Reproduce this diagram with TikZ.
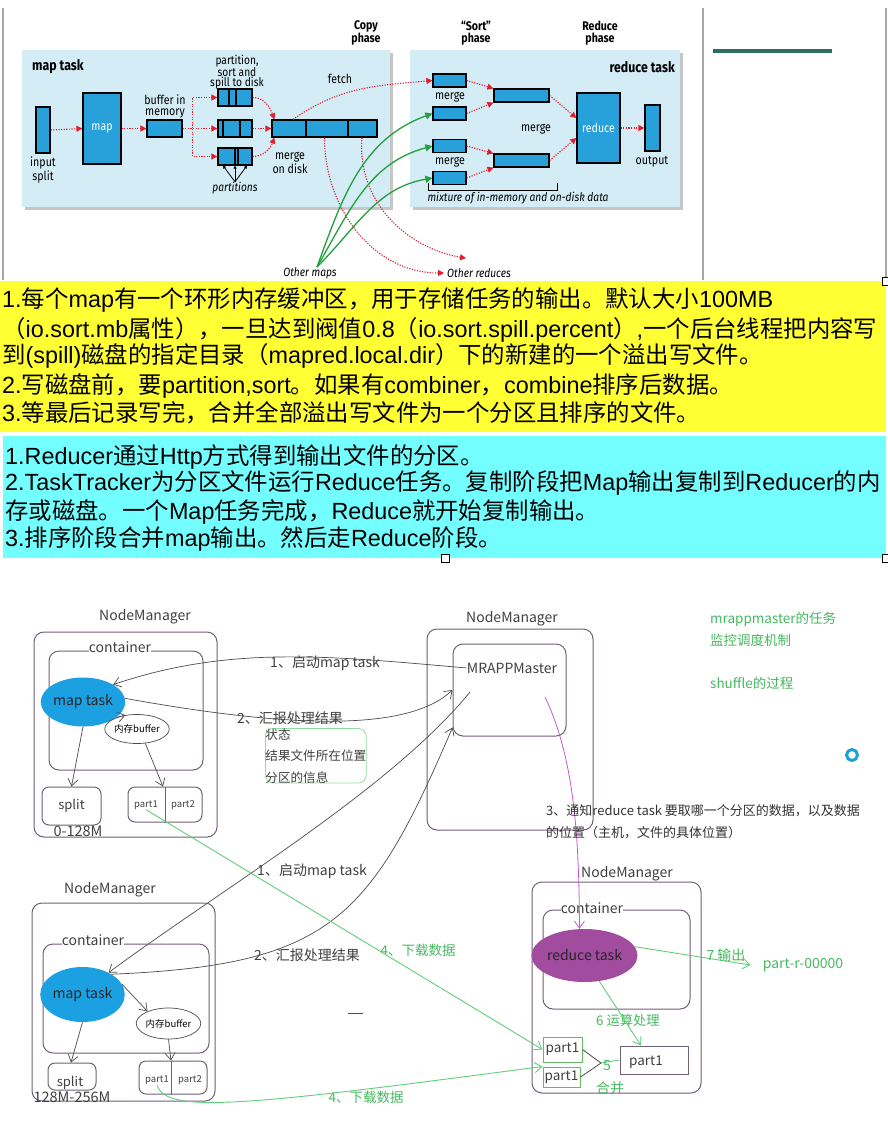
\documentclass[tikz,border=0pt]{standalone}
\usepackage{fontspec}
\setmainfont{Liberation Sans}
\newfontfamily\cjk{Noto Sans CJK SC}
\newfontfamily\cond[FakeStretch=0.85]{Fira Sans}
\usetikzlibrary{arrows.meta,shapes.geometric}
\definecolor{panel}{RGB}{212,236,246}
\definecolor{hblue}{RGB}{40,160,218}
\definecolor{hred}{RGB}{226,30,45}
\definecolor{hgreen}{RGB}{34,160,60}
\definecolor{yel}{RGB}{255,255,51}
\definecolor{cya}{RGB}{115,255,255}
\definecolor{barteal}{RGB}{45,110,98}
\definecolor{nmline}{RGB}{115,95,120}
\definecolor{lgreen}{RGB}{100,205,120}
\definecolor{tgreen}{RGB}{70,185,95}
\definecolor{taskblue}{RGB}{27,160,226}
\definecolor{taskpurple}{RGB}{162,76,160}
\definecolor{notepink}{RGB}{200,90,205}

\begin{document}
\begin{tikzpicture}[x=1pt, y=-1pt,
  blk/.style={draw=black, line width=1.2pt, fill=hblue, inner sep=0pt},
  tlab/.style={font=\cond\fontsize{12.5}{11}\selectfont, align=center, inner sep=0pt},
  ttitle/.style={tlab, font=\cond\bfseries\fontsize{12.5}{12.5}\selectfont},
  tital/.style={tlab, font=\cond\itshape\fontsize{12}{11}\selectfont},
  rdarr/.style={draw=hred, line width=1.1pt, dash pattern=on 1.2pt off 1.4pt, -{Triangle[length=6pt,width=6pt]}},
  grarr/.style={draw=hgreen, line width=1.3pt, -{Triangle[length=7pt,width=7pt]}},
  ytext/.style={anchor=west, inner sep=0pt, font=\fontsize{23.4}{24}\selectfont},
  nmbox/.style={draw=nmline, line width=1pt, rounded corners=10pt, inner sep=0pt},
  btxt/.style={font=\cjk\fontsize{14}{16}\selectfont, inner sep=0pt, text=black!75},
  gtxt/.style={btxt, text=tgreen},
  conn/.style={draw=black!70, line width=0.7pt, -{Straight Barb[length=7pt,width=10pt]}},
  gconn/.style={draw=lgreen, line width=0.9pt, -{Straight Barb[length=7pt,width=10pt]}}]
  \useasboundingbox[fill=white] (0,0) rectangle (888,1124);

  % screenshot frame
  \draw[gray!70, line width=1.5pt] (3,8) -- (3,280);
  \draw[gray!70, line width=1.5pt] (703,8) -- (703,280);
  \draw[gray!70, line width=1.5pt] (886,8) -- (886,280);
  \draw[barteal, line width=3.5pt] (713,51) -- (832,51);

  % the two task panels
  \fill[gray!45] (25,53) rectangle (393,210);
  \fill[panel] (22,50) rectangle (390,207);
  \fill[gray!45] (413,53) rectangle (683,210);
  \fill[panel] (410,50) rectangle (680,207);
  \node[ttitle] (copyph) at (366,33) {Copy\\phase};
  \node[ttitle] (sortph) at (476,33) {“Sort”\\phase};
  \node[ttitle] (redph) at (600,33) {Reduce\\phase};
  \node[ttitle, anchor=west, font=\cond\bfseries\fontsize{14.5}{14}\selectfont] (maptitle) at (32,67) {map task};
  \node[ttitle, anchor=east, font=\cond\bfseries\fontsize{14.5}{14}\selectfont] (redtitle) at (675,67) {reduce task};

  % map side
  \node[blk, minimum width=14, minimum height=46] (insplit) at (43,130) {};
  \node[tlab] (insplitlbl) at (43,170) {input\\split};
  \node[blk, minimum width=38, minimum height=71, text=white, font=\cond\fontsize{12.5}{11}\selectfont] (mapblk) at (102,128.5) {map};
  \node[blk, minimum width=35, minimum height=17] (buf) at (164.5,128.5) {};
  \node[tlab] (buflbl) at (165,106) {buffer in\\memory};
  \node[blk, minimum width=34, minimum height=17] (spillA) at (235,97.5) {};
  \node[blk, minimum width=34, minimum height=17] (spillB) at (235,128.5) {};
  \node[blk, minimum width=34, minimum height=17] (spillC) at (235,156.5) {};
  \node[tlab, font=\cond\fontsize{12}{10}\selectfont] (spilllbl) at (237,72) {partition,\\sort and\\spill to disk};
  \node[blk, minimum width=105, minimum height=17] (mrgdisk) at (324.5,128.5) {};
  \node[tlab] (mrgdisklbl) at (290,163) {merge\\on disk};
  \node[tlab] (fetchlbl) at (340,79) {fetch};
  \node[tital] (partslbl) at (235,188) {partitions};
  \foreach \n/\a/\b in {spillA/-6/1, spillB/-12/5, spillC/0/3, mrgdisk/-18.5/23.5}
    \draw[line width=1.2pt] ([xshift=\a]\n.north) -- ([xshift=\a]\n.south)
      ([xshift=\b]\n.north) -- ([xshift=\b]\n.south);
  \foreach \s in {-12,0,12}
    \draw[line width=0.8pt, -{Triangle[length=3pt,width=3pt]}] (partslbl.north) -- ([xshift=\s]spillC.south);

  \draw[rdarr] (insplit.east) -- (mapblk.west);
  \draw[rdarr] (mapblk.east) -- (buf.west);
  \draw[rdarr] (buf.east) -- ++(10,0) |- (spillA.west);
  \draw[rdarr] (buf.east) -- (spillB.west);
  \draw[rdarr] (buf.east) -- ++(10,0) |- (spillC.west);
  \draw[rdarr] (spillA.east) to[out=0,in=110] ([xshift=3]mrgdisk.north west);
  \draw[rdarr] (spillB.east) -- (mrgdisk.west);
  \draw[rdarr] (spillC.east) to[out=0,in=-110] ([xshift=3]mrgdisk.south west);

  % reduce side
  \node[blk, minimum width=33, minimum height=13] (mA) at (449.5,80.5) {};
  \node[blk, minimum width=33, minimum height=13] (mB) at (449.5,113.5) {};
  \node[blk, minimum width=33, minimum height=13] (mC) at (449.5,146) {};
  \node[blk, minimum width=33, minimum height=13] (mD) at (449.5,178) {};
  \node[tlab] (mlblA) at (450,97) {merge};
  \node[tlab] (mlblB) at (450,162) {merge};
  \node[blk, minimum width=55, minimum height=13] (mrgA) at (521.5,95.5) {};
  \node[blk, minimum width=55, minimum height=13] (mrgB) at (521.5,160.5) {};
  \node[tlab] (mlblC) at (536,129) {merge};
  \node[blk, minimum width=43, minimum height=70, text=white, font=\cond\fontsize{12.5}{11}\selectfont] (redblk) at (598.5,128) {reduce};
  \node[blk, minimum width=15, minimum height=46] (outblk) at (652.5,128) {};
  \node[tlab] (outlbl) at (652,162) {output};
  \draw[line width=0.8pt] (428,183) -- (428,190) -- (557,190) -- (557,183);
  \node[tital] (mixlbl) at (518,198) {mixture of in-memory and on-disk data};

  \draw[rdarr] (mA.east) -- (mrgA.north west);
  \draw[rdarr] (mB.east) -- (mrgA.south west);
  \draw[rdarr] (mC.east) -- (mrgB.north west);
  \draw[rdarr] (mD.east) -- (mrgB.south west);
  \draw[rdarr] (mrgA.east) -- ([yshift=10]redblk.west);
  \draw[rdarr] (mrgB.east) -- ([yshift=-10]redblk.west);
  \draw[rdarr] (redblk.east) -- (outblk.west);

  % between the tasks
  \node[tital] (othmap) at (310,273) {Other maps};
  \node[tital, anchor=west] (othred) at (447,273) {Other reduces};
  \draw[rdarr] ([xshift=-31.5]mrgdisk.north) to[out=35,in=185] (mA.west);
  \draw[rdarr] (mrgdisk.south) to[out=-90,in=180] ([xshift=-3]othred.west);
  \draw[rdarr] ([xshift=37.5]mrgdisk.south) to[out=-95,in=170] ([xshift=19,yshift=10]othred.north west);
  \draw[grarr] ([xshift=7]othmap.north) to[out=70,in=200] (mB.west);
  \draw[grarr] ([xshift=7]othmap.north) to[out=60,in=195] (mC.west);
  \draw[grarr] ([xshift=7]othmap.north) to[out=45,in=190] (mD.west);

  % notes on the map side
  \fill[yel] (0,281) rectangle (886,432);
  \node[ytext] (y1) at (2,300) {1.{\cjk 每个}map{\cjk 有一个环形内存缓冲区，用于存储任务的输出。默认大小}100MB};
  \node[ytext] (y2) at (2,330) {{\cjk （}io.sort.mb{\cjk 属性），一旦达到阀值}0.8{\cjk （}io.sort.spill.percent{\cjk ）},{\cjk 一个后台线程把内容写}};
  \node[ytext] (y3) at (2,356) {{\cjk 到}(spill){\cjk 磁盘的指定目录（}mapred.local.dir{\cjk ）下的新建的一个溢出写文件。}};
  \node[ytext] (y4) at (2,386) {2.{\cjk 写磁盘前，要}partition,sort{\cjk 。如果有}combiner{\cjk ，}combine{\cjk 排序后数据。}};
  \node[ytext] (y5) at (2,413) {3.{\cjk 等最后记录写完，合并全部溢出写文件为一个分区且排序的文件。}};

  % notes on the reduce side
  \fill[cya] (3,436) rectangle (886,558);
  \node[ytext] (c1) at (5,457) {1.Reducer{\cjk 通过}Http{\cjk 方式得到输出文件的分区。}};
  \node[ytext] (c2) at (5,483) {2.TaskTracker{\cjk 为分区文件运行}Reduce{\cjk 任务。复制阶段把}Map{\cjk 输出复制到}Reducer{\cjk 的内}};
  \node[ytext] (c3) at (5,512) {{\cjk 存或磁盘。一个}Map{\cjk 任务完成，}Reduce{\cjk 就开始复制输出。}};
  \node[ytext] (c4) at (5,539) {3.{\cjk 排序阶段合并}map{\cjk 输出。然后走}Reduce{\cjk 阶段。}};
  \foreach \hx/\hy in {886/281, 445/558, 886/558}
    \draw[fill=white, line width=0.8pt] (\hx-4,\hy-4) rectangle (\hx+4,\hy+4);

  % first map NodeManager
  \node[btxt] (nm1lbl) at (145,617) {NodeManager};
  \node[nmbox, minimum width=183, minimum height=205] (nm1) at (125.5,734.5) {};
  \node[nmbox, minimum width=154, minimum height=119] (ct1) at (126,710.5) {};
  \node[btxt, fill=white, inner ysep=1pt] (ct1lbl) at (120,647) {container};
  \node[ellipse, fill=taskblue, minimum width=57, minimum height=49, btxt, text=black!85] (m1task) at (83,702) {map task};
  \node[ellipse, draw=black!70, line width=0.7pt, minimum width=46, minimum height=29, inner sep=0pt, font=\cjk\fontsize{9.5}{10}\selectfont] (buf1) at (137,729) {内存buffer};
  \node[nmbox, rounded corners=7pt, minimum width=59, minimum height=38, btxt, font=\cjk\fontsize{13}{14}\selectfont] (split1) at (71.5,806) {split};
  \node[nmbox, rounded corners=7pt, minimum width=74, minimum height=35] (parts1) at (165,804.5) {};
  \draw[nmline, line width=1pt] (parts1.north) -- (parts1.south);
  \node[btxt, font=\cjk\fontsize{9.5}{10}\selectfont] (p11) at (146,805) {part1};
  \node[btxt, font=\cjk\fontsize{9.5}{10}\selectfont] (p12) at (183,805) {part2};
  \node[btxt, font=\cjk\fontsize{14.5}{15}\selectfont] (size1) at (78,831) {0-128M};
  \draw[conn] (m1task.south) -- (split1.north);
  \draw[conn] (m1task.-25) -- (buf1.130);
  \draw[conn] (buf1.-60) -- ([xshift=-2]parts1.north);

  % MRAPPMaster NodeManager
  \node[btxt] (nm2lbl) at (512,619) {NodeManager};
  \node[nmbox, minimum width=166, minimum height=201] (nm2) at (510,729.5) {};
  \node[nmbox, minimum width=113, minimum height=92] (mrbox) at (509.5,690) {};
  \node[btxt] (mrapp) at (512,668) {MRAPPMaster};
  \node[btxt, anchor=west, align=left, text=tgreen, font=\cjk\fontsize{13.5}{22}\selectfont] (role) at (710,629) {mrappmaster的任务\\监控调度机制};
  \node[btxt, anchor=west, text=tgreen, font=\cjk\fontsize{13.5}{16}\selectfont] (shuf) at (710,683) {shuffle的过程};
  \draw[cyan!70!teal, line width=3pt] (852,755) circle (5.5);

  % map task calls, first NodeManager
  \node[btxt] (l1a) at (325,663) {1、启动map task};
  \node[btxt] (l2a) at (290,718) {2、汇报处理结果};
  \draw[conn] (mrapp.west) .. controls (330,656) and (230,645) .. (m1task.30);
  \draw[conn] (m1task.5) .. controls (300,730) and (410,730) .. (mrbox.west);
  \node[draw=lgreen!70, line width=0.8pt, rounded corners=8pt, anchor=north west, align=left, inner sep=1.5pt, btxt, font=\cjk\fontsize{12.6}{21.5}\selectfont] (info) at (265,728) {状态\\结果文件所在位置\\分区的信息};

  % second map NodeManager
  \node[btxt] (nm3lbl) at (110,890) {NodeManager};
  \node[nmbox, minimum width=183, minimum height=198] (nm3) at (123.5,1002) {};
  \node[nmbox, minimum width=166, minimum height=109] (ct3) at (126,998.5) {};
  \node[btxt, fill=white, inner ysep=1pt] (ct3lbl) at (93,940) {container};
  \node[ellipse, fill=taskblue, minimum width=59, minimum height=55, btxt, text=black!85] (m2task) at (82.5,994.5) {map task};
  \node[ellipse, draw=black!70, line width=0.7pt, minimum width=62, minimum height=31, inner sep=0pt, font=\cjk\fontsize{9.5}{10}\selectfont] (buf2) at (168.5,1023.5) {内存buffer};
  \node[nmbox, rounded corners=7pt, minimum width=48, minimum height=27] (split2) at (72,1076.5) {};
  \node[btxt, font=\cjk\fontsize{13}{14}\selectfont] (split2lbl) at (70,1083) {split};
  \node[nmbox, rounded corners=7pt, minimum width=68, minimum height=33] (parts2) at (173,1077.5) {};
  \draw[nmline, line width=1pt] ([xshift=-2]parts2.north) -- ([xshift=-2]parts2.south);
  \node[btxt, font=\cjk\fontsize{9.5}{10}\selectfont] (p21) at (157,1080) {part1};
  \node[btxt, font=\cjk\fontsize{9.5}{10}\selectfont] (p22) at (190,1080) {part2};
  \node[btxt, font=\cjk\fontsize{14.5}{15}\selectfont] (size2) at (72,1097) {128M-256M};
  \draw[conn] (m2task.south) -- ([xshift=-1]split2.north);
  \draw[conn] (m2task.15) -- (buf2.150);
  \draw[conn] (buf2.south) -- ([xshift=-2]parts2.north);
  \draw[black!70, line width=0.8pt] (348,1013) -- (363,1013);

  % map task calls, second NodeManager
  \coordinate (mrout) at (470,692);
  \node[btxt] (l1b) at (312,871) {1、启动map task};
  \node[btxt] (l2b) at (307,955) {2、汇报处理结果};
  \draw[conn] (mrout) .. controls (390,790) and (220,890) .. (m2task.40);
  \draw[conn] (m2task.35) .. controls (330,965) and (370,920) .. ([yshift=9]mrbox.south west);

  % reduce NodeManager
  \node[btxt] (nm4lbl) at (627,874) {NodeManager};
  \node[nmbox, minimum width=169, minimum height=211] (nm4) at (616.5,987.5) {};
  \node[nmbox, minimum width=147, minimum height=99] (ct4) at (616.5,959.5) {};
  \node[btxt, fill=white, inner ysep=1pt] (ct4lbl) at (592,908) {container};
  \node[ellipse, fill=taskpurple, minimum width=69, minimum height=53, btxt, text=black!85] (rtask) at (584.5,955.5) {reduce task};
  \node[draw=black!45!green!60, line width=1pt, minimum width=39, minimum height=25, inner sep=0pt, btxt, font=\cjk\fontsize{13.5}{14}\selectfont] (p1a) at (562.5,1049.5) {part1};
  \node[draw=black!45!green!60, line width=1pt, minimum width=37, minimum height=20, inner sep=0pt, btxt, font=\cjk\fontsize{13.5}{14}\selectfont] (p1b) at (561.5,1077) {part1};
  \node[draw=nmline, line width=1pt, minimum width=68, minimum height=28, inner sep=0pt] (p1m) at (654,1060) {};
  \node[btxt, font=\cjk\fontsize{13.5}{14}\selectfont] (p1mlbl) at (646,1062) {part1};
  \coordinate (mj) at (601,1063);
  \draw[black!70, line width=0.8pt] (p1a.east) -- (mj) -- (p1b.east);
  \draw[lgreen, line width=0.9pt] (mj) -- (p1m.west);
  \node[gtxt] (fivelbl) at (607,1066) {5};
  \node[gtxt] (mergelbl) at (610,1088) {合并};
  \node[gtxt, font=\cjk\fontsize{13.3}{14}\selectfont] (calclbl) at (628,1020) {6 运算处理};
  \node[gtxt] (outlbl2) at (726,955) {7 输出};
  \node[gtxt] (outfile) at (803,965) {part-r-00000};
  \draw[gconn] (rtask.-60) -- ([xshift=-13]p1m.north);
  \draw[gconn] (rtask.10) -- ([xshift=-12]outfile.west);

  % the shuffle: notify the reducer, then download
  \coordinate (notify) at (545,697);
  \draw[draw=notepink, line width=0.8pt, -{Straight Barb[length=7pt,width=10pt]}] (notify) .. controls (575,760) and (579,840) .. ([xshift=-5]rtask.north);
  \node[btxt, anchor=west, align=left, text=black!80, font=\cjk\fontsize{13}{22}\selectfont] (notelbl) at (546,822) {3、通知reduce task 要取哪一个分区的数据，以及数据\\的位置（主机，文件的具体位置）};
  \node[gtxt, font=\cjk\fontsize{13.5}{14}\selectfont] (dl1) at (418,950) {4、下载数据};
  \node[gtxt, font=\cjk\fontsize{13.5}{14}\selectfont] (dl2) at (366,1097) {4、下载数据};
  \draw[gconn] (p11.south) -- (p1a.west);
  \draw[gconn] (p21.south) .. controls (165,1115) and (250,1105) .. (p1b.north west);
\end{tikzpicture}
\end{document}
